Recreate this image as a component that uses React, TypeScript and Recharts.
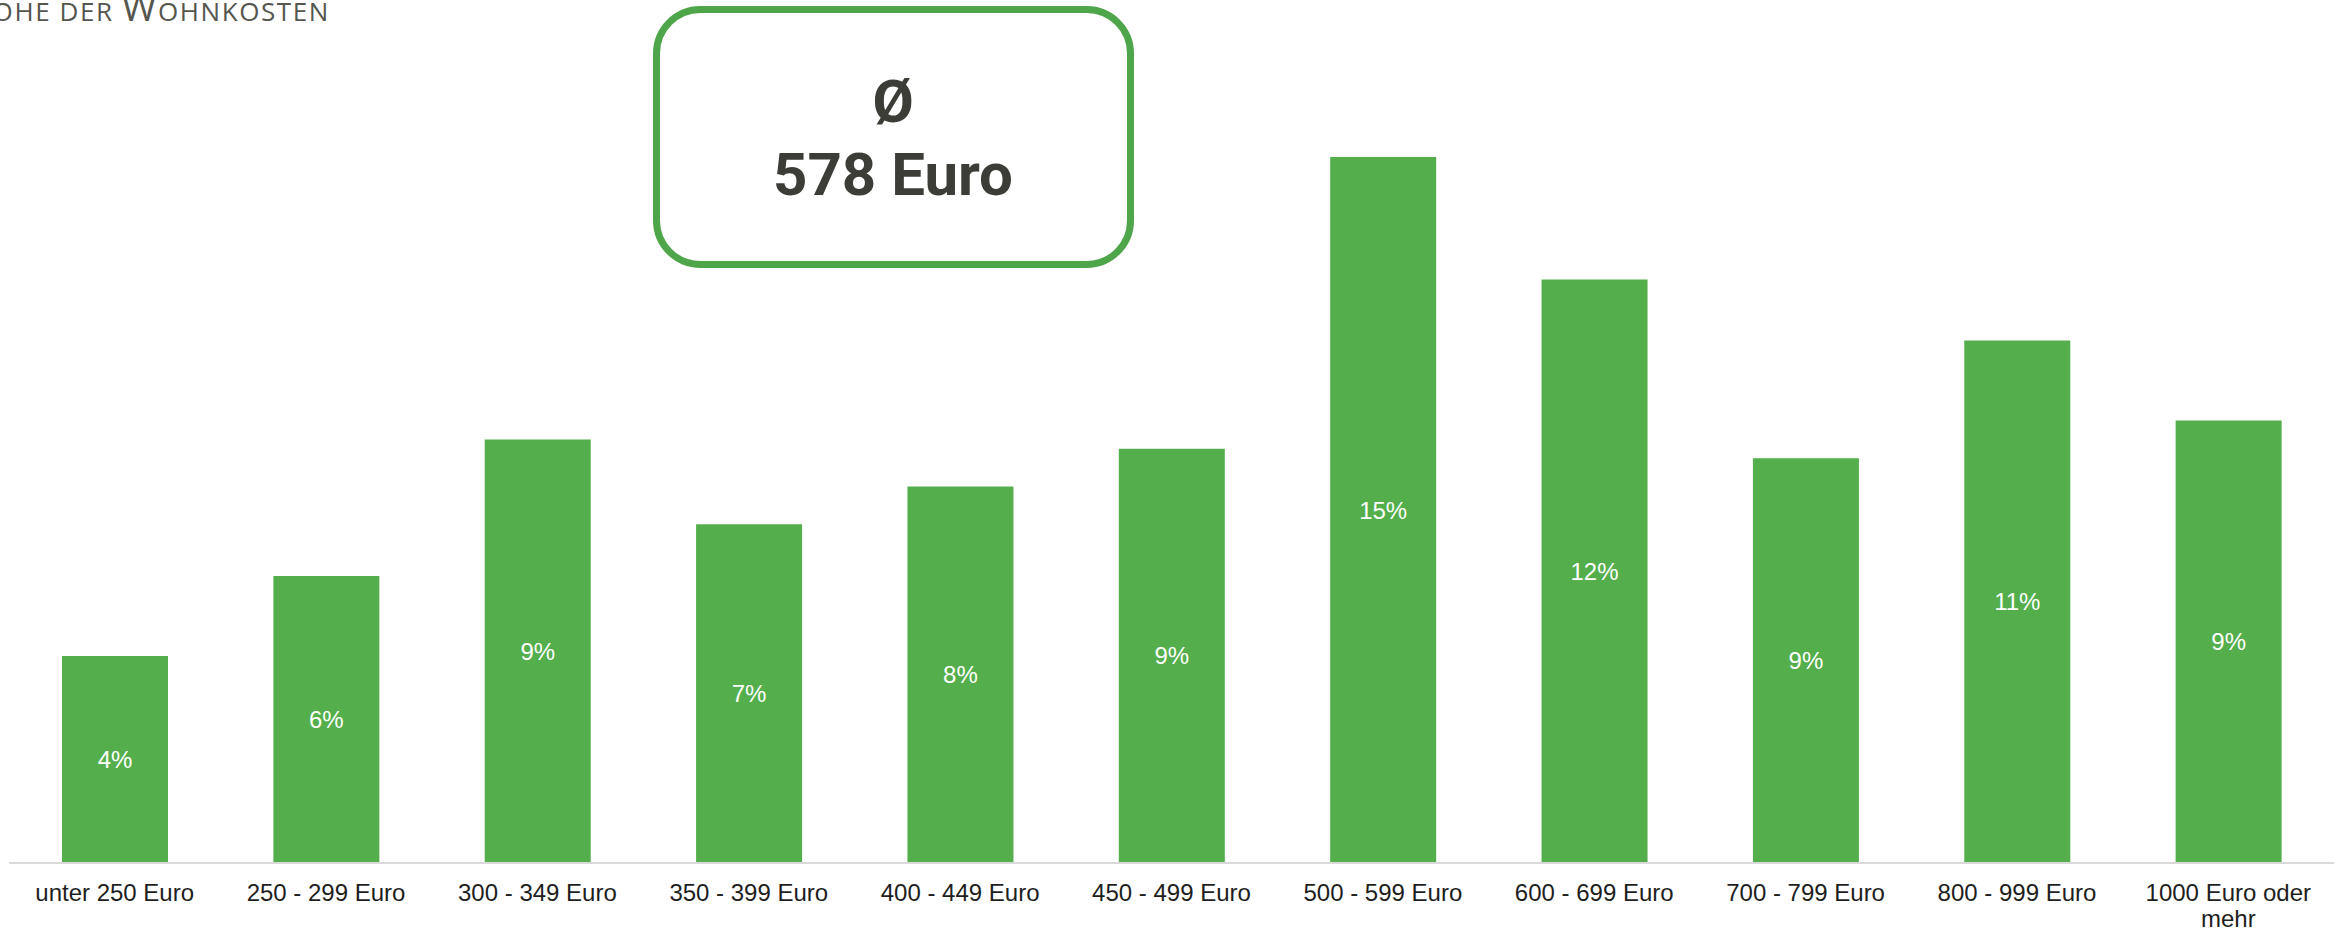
import React from 'react';
import { BarChart, Bar, XAxis, YAxis, LabelList } from 'recharts';

const categories = [
  'unter 250 Euro',
  '250 - 299 Euro',
  '300 - 349 Euro',
  '350 - 399 Euro',
  '400 - 449 Euro',
  '450 - 499 Euro',
  '500 - 599 Euro',
  '600 - 699 Euro',
  '700 - 799 Euro',
  '800 - 999 Euro',
  '1000 Euro oder mehr',
];
const shares = [4.4, 6.1, 9.0, 7.2, 8.0, 8.8, 15.0, 12.4, 8.6, 11.1, 9.4];
const averageLabel = ['Ø', '578 Euro'];
const titleParts = [
  { t: 'H', big: true },
  { t: 'ÖHE DER ', big: false },
  { t: 'W', big: true },
  { t: 'OHNKOSTEN', big: false },
];

const data = categories.map((c, i) => ({ cat: c, v: shares[i] }));

const W = 2344;
const H = 932;
const GREEN = '#53ae4b';
const FONT = '"Liberation Sans", Arial, sans-serif';
const TICK_SIZE = 24;

let measureCtx: CanvasRenderingContext2D | null = null;
function measure(s: string): number {
  if (!measureCtx) {
    const c = document.createElement('canvas');
    measureCtx = c.getContext('2d');
  }
  if (!measureCtx) return s.length * TICK_SIZE * 0.55;
  measureCtx.font = `${TICK_SIZE}px "Liberation Sans", Arial, sans-serif`;
  return measureCtx.measureText(s).width;
}

function wrap(s: string, maxW: number): string[] {
  const words = s.split(' ');
  const lines: string[] = [];
  let cur = '';
  words.forEach((w) => {
    const test = cur ? cur + ' ' + w : w;
    if (cur && measure(test) > maxW) {
      lines.push(cur);
      cur = w;
    } else {
      cur = test;
    }
  });
  if (cur) lines.push(cur);
  return lines;
}

const CatTick = (props: any) => {
  const { x, y, payload } = props;
  const lines = wrap(String(payload.value), 200);
  return (
    <text
      x={x}
      y={y + 30}
      textAnchor="middle"
      fill="#1e1e1e"
      fontSize={TICK_SIZE}
      fontFamily={FONT}
    >
      {lines.map((l, i) => (
        <tspan key={i} x={x} dy={i === 0 ? 0 : 26}>
          {l}
        </tspan>
      ))}
    </text>
  );
};

export default function App() {
  return (
    <div
      style={{
        position: 'absolute',
        left: 0,
        top: 0,
        width: W,
        height: H,
        overflow: 'hidden',
        background: '#fff',
      }}
    >
      <BarChart
        width={W}
        height={H}
        data={data}
        margin={{ top: 110, right: 10, bottom: 0, left: 9 }}
      >
        <YAxis hide domain={[0, 16]} />
        <XAxis
          dataKey="cat"
          height={69}
          interval={0}
          tickLine={false}
          axisLine={{ stroke: '#d9d9d9', strokeWidth: 2 }}
          tick={<CatTick />}
        />
        <Bar dataKey="v" fill={GREEN} barSize={106} isAnimationActive={false}>
          <LabelList
            dataKey="v"
            position="center"
            fill="#ffffff"
            fontSize={24}
            fontFamily={FONT}
            formatter={(v: any) => `${Math.round(Number(v))}%`}
          />
        </Bar>
      </BarChart>
      <svg
        width={W}
        height={H}
        style={{ position: 'absolute', left: 0, top: 0, pointerEvents: 'none' }}
      >
        <text
          x={330}
          y={20.5}
          textAnchor="end"
          fill="#55564e"
          fontFamily='"Open Sans", sans-serif'
          fontWeight={400}
          letterSpacing={1.6}
        >
          {titleParts.map((p, i) => (
            <tspan key={i} fontSize={p.big ? 37 : 26}>
              {p.t}
            </tspan>
          ))}
        </text>
        <rect
          x={656.5}
          y={9.5}
          width={474}
          height={255}
          rx={44}
          ry={44}
          fill="#ffffff"
          stroke="#4fa54a"
          strokeWidth={7}
        />
        <text
          x={893}
          y={122}
          textAnchor="middle"
          fill="#3d3d37"
          fontFamily="Roboto, sans-serif"
          fontWeight={700}
          fontSize={60}
        >
          {averageLabel[0]}
        </text>
        <text
          x={893}
          y={195}
          textAnchor="middle"
          fill="#3d3d37"
          fontFamily="Roboto, sans-serif"
          fontWeight={700}
          fontSize={60}
        >
          {averageLabel[1]}
        </text>
      </svg>
    </div>
  );
}
